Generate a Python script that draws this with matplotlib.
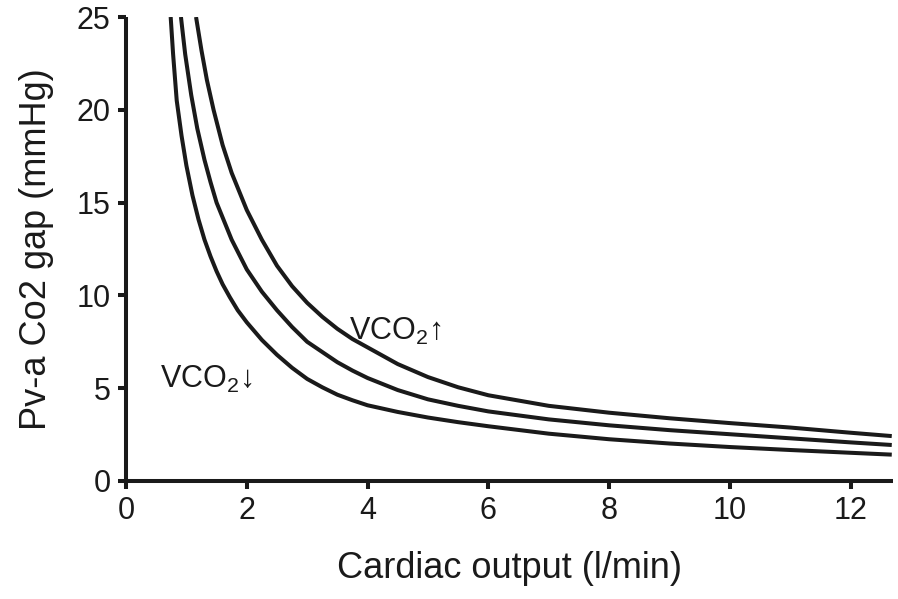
import matplotlib
matplotlib.use('Agg')
import matplotlib.pyplot as plt

plt.rcParams['font.family'] = ['Liberation Sans', 'DejaVu Sans']
plt.rcParams['mathtext.fontset'] = 'custom'
plt.rcParams['mathtext.rm'] = 'Liberation Sans'
plt.rcParams['mathtext.it'] = 'Liberation Sans'

# curves (cardiac output l/min -> gap mmHg)
x_high = [1.16, 1.25, 1.34, 1.45, 1.6, 1.75, 2.0, 2.25, 2.5, 2.75, 3.0, 3.25, 3.5, 3.75, 4.0, 4.5,
          5.0, 5.5, 6.0, 7.0, 8.0, 9.0, 10.0, 11.0, 12.0, 12.68]
y_high = [25, 23.2, 21.6, 20.0, 18.1, 16.6, 14.6, 13.0, 11.6, 10.5, 9.6, 8.85, 8.2, 7.65, 7.2, 6.3,
          5.6, 5.05, 4.62, 4.05, 3.68, 3.38, 3.12, 2.88, 2.6, 2.42]

x_mid = [0.91, 0.98, 1.08, 1.18, 1.3, 1.4, 1.5, 1.75, 2.0, 2.25, 2.5, 2.75, 3.0, 3.25, 3.5, 3.75,
         4.0, 4.5, 5.0, 5.5, 6.0, 7.0, 8.0, 9.0, 10.0, 11.0, 12.0, 12.68]
y_mid = [25, 23, 20.8, 19, 17.3, 16.1, 15.0, 13, 11.4, 10.2, 9.2, 8.3, 7.5, 6.95, 6.4, 5.95,
         5.55, 4.9, 4.4, 4.05, 3.75, 3.32, 3.0, 2.74, 2.52, 2.3, 2.08, 1.94]

x_low = [0.74, 0.78, 0.84, 0.92, 1.0, 1.1, 1.2, 1.3, 1.4, 1.5, 1.6, 1.72, 1.85, 2.0, 2.25, 2.5,
         2.75, 3.0, 3.25, 3.5, 3.75, 4.0, 4.5, 5.0, 5.5, 6.0, 7.0, 8.0, 9.0, 10.0, 11.0, 12.0, 12.68]
y_low = [25, 23, 20.5, 18.6, 17.0, 15.4, 14.1, 13.0, 12.1, 11.3, 10.6, 9.9, 9.2, 8.55, 7.6, 6.8,
         6.1, 5.5, 5.05, 4.65, 4.35, 4.08, 3.72, 3.42, 3.17, 2.95, 2.55, 2.25, 2.02, 1.83, 1.67, 1.52, 1.42]

x_ticks = [0, 2, 4, 6, 8, 10, 12]
y_ticks = [0, 5, 10, 15, 20, 25]

fig = plt.figure(figsize=(8.98, 5.99), dpi=100)
ax = fig.add_axes([0.1403, 0.197, 0.8541, 0.7746])

for xs, ys in [(x_high, y_high), (x_mid, y_mid), (x_low, y_low)]:
    ax.plot(xs, ys, color='#1a1a1a', lw=2.9, solid_capstyle='butt', solid_joinstyle='round')

ax.set_xlim(0, 12.7)
ax.set_ylim(0, 25)
ax.set_xticks(x_ticks)
ax.set_yticks(y_ticks)

for s in ['top', 'right']:
    ax.spines[s].set_visible(False)
for s in ['left', 'bottom']:
    ax.spines[s].set_linewidth(2.9)
    ax.spines[s].set_color('#1a1a1a')
    ax.spines[s].set_capstyle('butt')

ax.tick_params(direction='out', length=6, width=2.9, color='#1a1a1a',
               labelsize=22, pad=5, labelcolor='#1a1a1a')

ax.set_xlabel('Cardiac output (l/min)', fontsize=26, color='#1a1a1a', labelpad=18)
ax.set_ylabel('Pv-a Co2 gap (mmHg)', fontsize=26, color='#1a1a1a', labelpad=16)

ax.text(3.7, 7.6, 'VCO$_2$\u2191', fontsize=22, color='#1a1a1a')
ax.text(0.56, 5.0, 'VCO$_2$\u2193', fontsize=22, color='#1a1a1a')

fig.savefig('out.png', dpi=100)
